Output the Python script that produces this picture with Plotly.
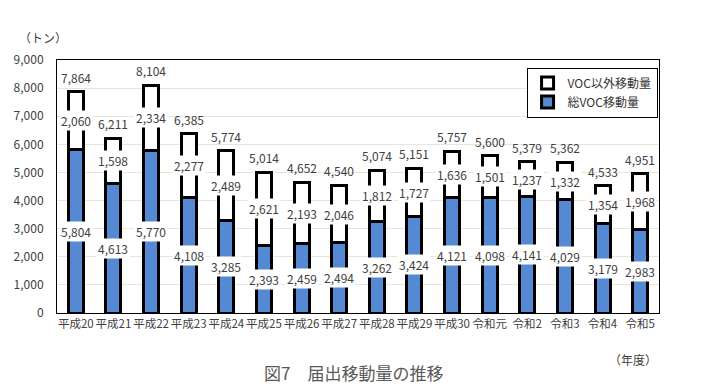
import plotly.graph_objects as go

years = ["平成20", "平成21", "平成22", "平成23", "平成24", "平成25", "平成26", "平成27",
         "平成28", "平成29", "平成30", "令和元", "令和2", "令和3", "令和4", "令和5"]
voc_total = [5804, 4613, 5770, 4108, 3285, 2393, 2459, 2494, 3262, 3424, 4121, 4098, 4141, 4029, 3179, 2983]
non_voc = [2060, 1598, 2334, 2277, 2489, 2621, 2193, 2046, 1812, 1727, 1636, 1501, 1237, 1332, 1354, 1968]
grand_total = [7864, 6211, 8104, 6385, 5774, 5014, 4652, 4540, 5074, 5151, 5757, 5600, 5379, 5362, 4533, 4951]

FONT = "Noto Sans CJK JP"
TXT = "#404040"

fig = go.Figure()
fig.add_bar(x=years, y=voc_total, name="総VOC移動量",
            marker=dict(color="#5589D3", line=dict(color="black", width=3)), width=0.4)
fig.add_bar(x=years, y=non_voc, name="VOC以外移動量",
            marker=dict(color="white", line=dict(color="black", width=3)), width=0.4)

ann = []
for i, yr in enumerate(years):
    ann.append(dict(x=yr, y=voc_total[i] / 2, xref="x", yref="y", text=f"{voc_total[i]:,}",
                    showarrow=False, bgcolor="white", borderpad=1,
                    font=dict(size=12, color=TXT, family=FONT)))
    ann.append(dict(x=yr, y=voc_total[i] + non_voc[i] / 2, xref="x", yref="y", text=f"{non_voc[i]:,}",
                    showarrow=False, bgcolor="white", borderpad=1,
                    font=dict(size=12, color=TXT, family=FONT)))
    ann.append(dict(x=yr, y=grand_total[i], xref="x", yref="y", text=f"{grand_total[i]:,}",
                    showarrow=False, yanchor="bottom", yshift=4,
                    font=dict(size=12, color=TXT, family=FONT)))

ann.append(dict(x=-40 / 602, y=1 + 23 / 253, xref="paper", yref="paper", text="（トン）",
                showarrow=False, xanchor="left", yanchor="middle",
                font=dict(size=12, color=TXT, family=FONT)))
ann.append(dict(x=1.0, y=-46 / 253, xref="paper", yref="paper", text="（年度）",
                showarrow=False, xanchor="right", yanchor="middle",
                font=dict(size=12, color=TXT, family=FONT)))
ann.append(dict(x=(353 - 57) / 602, y=-59 / 253, xref="paper", yref="paper",
                text="図7　届出移動量の推移", showarrow=False, xanchor="center", yanchor="middle",
                font=dict(size=17, color="#595959", family=FONT)))

fig.update_layout(
    annotations=ann,
    width=708, height=390,
    margin=dict(l=57, r=49, t=60, b=77, autoexpand=False),
    barmode="stack", bargap=0.5,
    plot_bgcolor="white", paper_bgcolor="white",
    font=dict(family=FONT, color=TXT, size=12),
    showlegend=True,
    legend=dict(x=0.78, y=0.97, xanchor="left", yanchor="top",
                bordercolor="black", borderwidth=1, bgcolor="white",
                font=dict(size=12, color="#333", family=FONT),
                itemwidth=30, tracegroupgap=2),
    xaxis=dict(showline=True, linecolor="black", linewidth=1, mirror=True, tickangle=0,
               automargin=False,
               tickfont=dict(size=11.5, color=TXT, family=FONT), ticks=""),
    yaxis=dict(range=[0, 9000], dtick=1000, tickformat=",", showline=True, linecolor="black",
               linewidth=1, mirror=True, showgrid=True, gridcolor="#E8E5D9", gridwidth=1,
               tickfont=dict(size=12, color=TXT, family=FONT), ticks="", ticklabelstandoff=10,
               zeroline=False, automargin=False),
)

fig.write_html("out.html", config={"displayModeBar": False},
               post_script="document.body.style.margin='0';document.body.style.overflow='hidden';")
